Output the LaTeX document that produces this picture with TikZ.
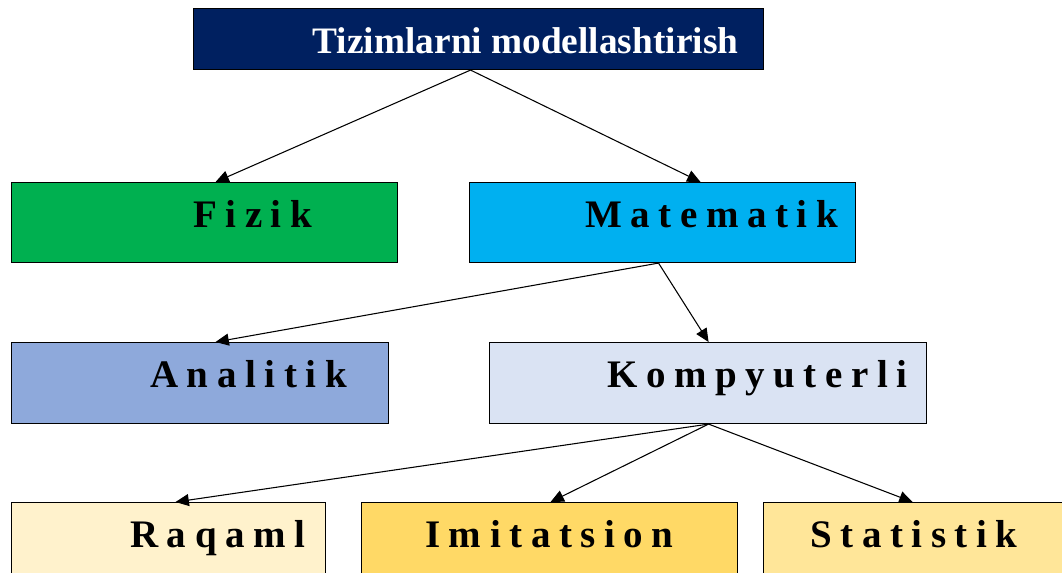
\documentclass[tikz,border=0pt]{standalone}
\usepackage{fontspec}
\setmainfont{Liberation Serif}
\usetikzlibrary{arrows.meta}
\definecolor{cnavy}{HTML}{002060}
\definecolor{cgreen}{HTML}{00B050}
\definecolor{ccyan}{HTML}{00B0F0}
\definecolor{cana}{HTML}{8EA9DB}
\definecolor{ckomp}{HTML}{DAE3F3}
\definecolor{craq}{HTML}{FFF2CC}
\definecolor{cimi}{HTML}{FFD966}
\definecolor{csta}{HTML}{FFE699}
\begin{document}
\begin{tikzpicture}[x=0.75pt,y=-0.75pt,
  box/.style={draw=black, line width=0.8pt, rectangle, inner sep=0pt, anchor=north west},
  lbl/.style={anchor=base west, inner sep=0pt, text=black,
    font=\fontsize{29.25}{30}\selectfont\bfseries\addfontfeature{LetterSpace=22}},
  conn/.style={-{Triangle[length=10pt,width=9pt]}, line width=0.8pt}]
\useasboundingbox (0,0) rectangle (1062,572);
\clip (0,0) rectangle (1062,572);
% boxes
\node[box, fill=cnavy, minimum width=427.5pt, minimum height=45.75pt] (top) at (193,8) {};
\node[box, fill=cgreen, minimum width=289.5pt, minimum height=60pt] (fiz) at (11,182) {};
\node[box, fill=ccyan, minimum width=289.5pt, minimum height=60pt] (mat) at (469,182) {};
\node[box, fill=cana, minimum width=282.75pt, minimum height=60.75pt] (ana) at (11,342) {};
\node[box, fill=ckomp, minimum width=327.75pt, minimum height=60.75pt] (komp) at (489,342) {};
\node[box, fill=craq, minimum width=235.5pt, minimum height=60pt] (raq) at (11,502) {};
\node[box, fill=cimi, minimum width=282pt, minimum height=60pt] (imi) at (361,502) {};
\node[box, fill=csta, minimum width=228.75pt, minimum height=60pt] (sta) at (763,502) {};
% labels
\node[anchor=base, inner sep=0pt, text=white, font=\fontsize{28}{30}\selectfont\bfseries] (ttop) at (525.5,53) {Tizimlarni modellashtirish};
\node[lbl] (tfiz) at (193,227) {Fizik};
\node[lbl] (tmat) at (585,227) {Matematik};
\node[lbl] (tana) at (150,387) {Analitik};
\node[lbl] (tkomp) at (607,387) {Kompyuterli};
\node[lbl] (traq) at (130,547) {Raqaml};
\node[lbl] (timi) at (425,547) {Imitatsion};
\node[lbl] (tsta) at (810,547) {Statistik};
% connectors
\draw[conn] ([xshift=-6pt]top.south) -- ([xshift=8.25pt]fiz.north);
\draw[conn] ([xshift=-6pt]top.south) -- ([xshift=28.5pt]mat.north);
\draw[conn] ([xshift=-3pt]mat.south) -- ([xshift=11.6pt]ana.north);
\draw[conn] ([xshift=-3pt]mat.south) -- ([xshift=0.4pt]komp.north);
\draw[conn] ([xshift=0.4pt]komp.south) -- ([xshift=5.25pt]raq.north);
\draw[conn] ([xshift=0.4pt]komp.south) -- ([xshift=0.75pt]imi.north);
\draw[conn] ([xshift=0.4pt]komp.south) -- ([xshift=-2.6pt]sta.north);
\end{tikzpicture}
\end{document}
